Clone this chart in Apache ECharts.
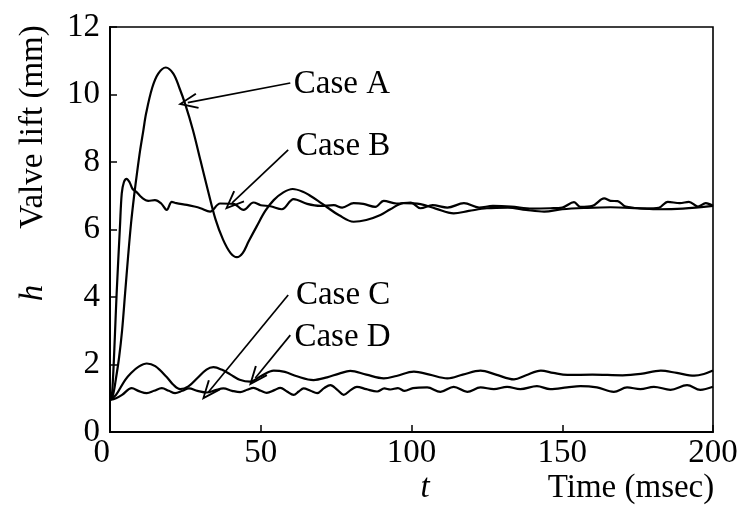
<!DOCTYPE html>
<html>
<head>
<meta charset="utf-8">
<script src="https://cdn.jsdelivr.net/npm/echarts@6/dist/echarts.min.js"></script>
<style>
  html, body { margin: 0; padding: 0; background: #fff; }
  #chart { width: 741px; height: 516px; }
</style>
</head>
<body>
<div id="chart"></div>
<script>
// ---- data: [time (msec), valve lift h (mm)] ----
const caseA = [[0,0.95],[1,1.1],[2,1.6],[3,2.2],[4,3.0],[5,4.1],[6,5.2],[7,6.2],[8,7.0],[9,7.7],
  [10,8.35],[11,8.9],[12,9.45],[14,10.2],[16,10.62],[18.5,10.8],[21,10.62],[23,10.2],[25,9.7],[27.5,8.95],
  [30,8.05],[32.5,7.15],[35,6.3],[37.5,5.7],[40,5.3],[42.1,5.18],[44,5.3],[46,5.65],[48.7,6.1],[51.5,6.55],
  [54.3,6.87],[57.5,7.1],[60.6,7.2],[64,7.12],[66.4,7.0],[69,6.85],[72,6.66],[76,6.42],[80.8,6.23],[85,6.28],
  [89.7,6.43],[93,6.6],[97.4,6.78],[103,6.75],[108,6.62],[114,6.48],[119,6.55],[125,6.63],[132,6.65],[138,6.58],
  [144,6.53],[150,6.6],[158,6.64],[166,6.66],[175,6.63],[182,6.6],[190,6.62],[200,6.7]];
const caseB = [[0,0.95],[0.5,1.0],[1,1.6],[1.6,2.8],[2.2,4.1],[3.3,6.08],[3.9,7.07],[4.6,7.4],[5.5,7.5],[6.5,7.4],
  [7.5,7.2],[8.9,7.1],[10.5,6.95],[12.7,6.85],[14.9,6.87],[17,6.77],[18.8,6.58],[20.5,6.82],[22,6.78],[25.5,6.73],
  [28,6.68],[30,6.63],[33.2,6.53],[36.5,6.77],[40.9,6.76],[44.3,6.58],[47.6,6.8],[50,6.72],[53.2,6.69],[57,6.6],
  [60.9,6.9],[65.4,6.76],[69.8,6.7],[74.2,6.72],[77,6.65],[80.8,6.78],[84,6.76],[88,6.67],[90.8,6.85],[95,6.77],
  [99.7,6.8],[103,6.63],[107,6.72],[111.9,6.65],[117.4,6.78],[122.4,6.65],[127,6.7],[133,6.68],[140,6.62],[146,6.63],
  [150,6.65],[153.9,6.81],[156,6.67],[160,6.7],[163.9,6.92],[166,6.85],[168.4,6.84],[171,6.68],[178,6.62],[182,6.64],
  [185,6.82],[189,6.78],[192,6.82],[195,6.68],[197.6,6.78],[200,6.7]];
const caseC = [[0,0.95],[2,1.0],[4,1.1],[7.2,1.3],[9.6,1.21],[12.2,1.15],[14.6,1.22],[17.2,1.3],[19.5,1.22],[21.6,1.15],
  [24,1.22],[26.2,1.29],[29,1.22],[32.1,1.17],[35,1.24],[37.6,1.29],[40.5,1.22],[43.2,1.18],[45.5,1.25],[47.6,1.31],
  [50,1.22],[52,1.16],[54.5,1.24],[56.5,1.31],[58.7,1.2],[60.9,1.1],[62.6,1.2],[64.2,1.29],[66.5,1.22],[68.7,1.15],
  [71,1.3],[73.1,1.39],[75.4,1.25],[77.5,1.1],[79.8,1.24],[81.9,1.34],[85,1.27],[88.6,1.2],[91,1.29],[93,1.26],
  [95.5,1.3],[97.7,1.22],[100.5,1.3],[105.2,1.32],[109.6,1.19],[114,1.34],[118.5,1.19],[122.9,1.32],[127.3,1.27],[131.7,1.34],
  [136.1,1.27],[141.6,1.36],[146,1.27],[151.6,1.32],[156,1.36],[161.5,1.32],[167.1,1.19],[171.5,1.32],[175.9,1.27],[180.4,1.34],
  [185.9,1.25],[191.4,1.39],[195.8,1.25],[200,1.34]];
const caseD = [[0,0.95],[2,1.1],[5,1.54],[7,1.75],[9.4,1.93],[12.2,2.03],[15,1.95],[18.8,1.63],[21,1.4],[23.3,1.27],
  [26,1.35],[29,1.6],[32,1.85],[34.3,1.92],[37,1.85],[40,1.7],[43,1.55],[46.5,1.49],[50,1.65],[54.3,1.82],
  [58,1.78],[62,1.65],[67.5,1.54],[72,1.62],[76,1.73],[79.7,1.81],[85,1.7],[90.8,1.59],[95,1.66],[100.8,1.79],
  [106,1.7],[111.9,1.59],[117,1.7],[122.9,1.82],[128,1.7],[134,1.56],[138,1.68],[142.9,1.82],[147,1.75],[151.7,1.69],
  [160,1.7],[170,1.68],[176,1.72],[182.7,1.82],[188,1.75],[193.8,1.67],[197,1.72],[200,1.82]];

// ---- axes ----
const xTicks = [0, 50, 100, 150, 200];
const yTicks = [0, 2, 4, 6, 8, 10, 12];

// ---- annotations (data coordinates): label anchor, arrow start, arrow tip ----
const caseNames  = ['Case A', 'Case B', 'Case C', 'Case D'];
const labelAt    = [[60.8, 10.31], [61.5, 8.45], [61.5, 4.06], [61.0, 2.8]];
const arrowFrom  = [[59.8, 10.34], [59.1, 8.36], [59.1, 4.06], [59.8, 2.87]];
const arrowTo    = [[25.8, 9.76], [40.5, 6.79], [32.6, 1.18], [48.2, 1.6]];

const SERIF = 'Liberation Serif';
const FS = 33;
const arrowHead = 'path://M6,0 L12,14 L10.7,14.6 L6,3.4 L1.3,14.6 L0,14 Z';

const chart = echarts.init(document.getElementById('chart'), null, { renderer: 'canvas' });

const seriesData = [caseA, caseB, caseC, caseD];
const series = seriesData.map((d, i) => ({
  type: 'line',
  name: caseNames[i],
  data: d,
  showSymbol: false,
  symbol: 'none',
  smooth: 0.35,
  lineStyle: { color: '#000', width: 2.2 },
  silent: true,
  markLine: {
    silent: true,
    symbol: ['none', arrowHead],
    symbolSize: [16, 20],
    label: { show: false },
    lineStyle: { color: '#000', width: 1.7, type: 'solid' },
    emphasis: { disabled: true },
    data: [[{ coord: arrowFrom[i] }, { coord: arrowTo[i] }]]
  },
  markPoint: {
    silent: true,
    symbol: 'circle',
    symbolSize: 1,
    itemStyle: { color: 'rgba(0,0,0,0)' },
    label: {
      show: true, position: 'right', distance: 0,
      formatter: caseNames[i], color: '#000',
      fontFamily: SERIF, fontSize: FS
    },
    data: [{ coord: labelAt[i], name: caseNames[i] }]
  }
}));

const option = {
  animation: false,
  backgroundColor: '#fff',
  grid: { left: 110, right: 28, top: 27, bottom: 84, show: true, borderColor: '#000', borderWidth: 1.6, backgroundColor: 'transparent' },
  xAxis: {
    type: 'value', min: xTicks[0], max: xTicks[xTicks.length - 1], interval: 50,
    axisLine: { show: true, lineStyle: { color: '#000', width: 2 } },
    axisTick: { show: true, inside: true, length: 7, lineStyle: { color: '#000', width: 1.5 } },
    axisLabel: { color: '#000', fontFamily: SERIF, fontSize: FS, margin: 5, alignMinLabel: 'right' },
    splitLine: { show: false }
  },
  yAxis: {
    type: 'value', min: yTicks[0], max: yTicks[yTicks.length - 1], interval: 2,
    axisLine: { show: true, lineStyle: { color: '#000', width: 2 } },
    axisTick: { show: true, inside: true, length: 7, lineStyle: { color: '#000', width: 1.5 } },
    axisLabel: { color: '#000', fontFamily: SERIF, fontSize: FS, margin: 10 },
    splitLine: { show: false }
  },
  graphic: [
    { type: 'text', x: 33, y: 127, rotation: Math.PI / 2,
      style: { text: 'Valve lift (mm)', fill: '#000', font: FS + 'px "' + SERIF + '"', textAlign: 'center', textVerticalAlign: 'middle' } },
    { type: 'text', x: 33, y: 293, rotation: Math.PI / 2,
      style: { text: 'h', fill: '#000', font: 'italic ' + FS + 'px "' + SERIF + '"', textAlign: 'center', textVerticalAlign: 'middle' } },
    { type: 'text', x: 425, y: 488,
      style: { text: 't', fill: '#000', font: 'italic ' + FS + 'px "' + SERIF + '"', textAlign: 'center', textVerticalAlign: 'middle' } },
    { type: 'text', x: 631, y: 488,
      style: { text: 'Time (msec)', fill: '#000', font: FS + 'px "' + SERIF + '"', textAlign: 'center', textVerticalAlign: 'middle' } }
  ],
  series: series
};
chart.setOption(option);
</script>
</body>
</html>
